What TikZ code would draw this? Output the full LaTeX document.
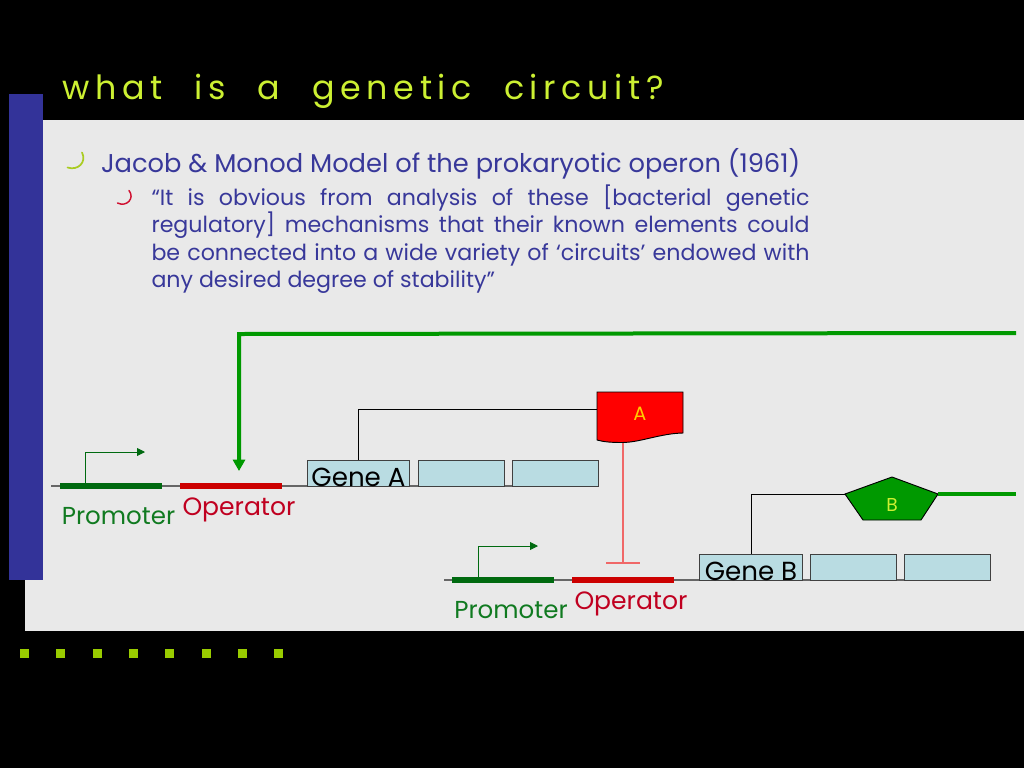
\documentclass[tikz,border=0pt]{standalone}
\usepackage{fontspec}
\setmainfont{Poppins}
\newfontfamily\titlefont[LetterSpace=17,WordSpace=2.2]{Poppins}
\usetikzlibrary{arrows.meta}
\definecolor{titlecol}{HTML}{CCF032}
\definecolor{panelcol}{HTML}{E9E9E9}
\definecolor{sidecol}{HTML}{333399}
\definecolor{textcol}{HTML}{38389A}
\definecolor{promcol}{HTML}{006A10}
\definecolor{promtxt}{HTML}{107A20}
\definecolor{opercol}{HTML}{CC0000}
\definecolor{opertxt}{HTML}{C00020}
\definecolor{genecol}{HTML}{B9DCE2}
\definecolor{activecol}{HTML}{009900}
\definecolor{inhibcol}{HTML}{F06868}
\definecolor{dotcol}{HTML}{99CC00}
\definecolor{bulletred}{HTML}{D01030}
\definecolor{bulletgreen}{HTML}{AACC22}
\newcommand{\genetext}[1]{\smash{\raisebox{-9.9pt}{#1}}}
\tikzset{
  x=0.75pt,y=-0.75pt,
  txt/.style={inner sep=0pt,outer sep=0pt},
  dnaline/.style={draw=black!60,line width=0.9pt},
  promobar/.style={fill=promcol,draw=none,minimum width=76.5pt,minimum height=4.5pt,inner sep=0pt},
  operbar/.style={fill=opercol,draw=none,minimum width=76.5pt,minimum height=4.5pt,inner sep=0pt},
  genebox/.style={fill=genecol,draw=black!75,line width=0.7pt,minimum height=19.5pt,inner sep=0pt,text=black,font=\fontsize{19.6}{22}\selectfont},
  smallbox/.style={genebox,minimum width=64.5pt},
  bigbox/.style={genebox,minimum width=77pt},
  tss/.style={draw=promcol,line width=0.65pt,-{Triangle[length=6pt,width=6pt]}},
  link/.style={draw=black,line width=0.7pt},
  active/.style={draw=activecol,line width=3pt},
  promlab/.style={txt,text=promtxt,font=\fontsize{18.4}{20}\selectfont},
  operlab/.style={txt,text=opertxt,font=\fontsize{18.8}{20}\selectfont},
  dot/.style={fill=dotcol,draw=none,minimum size=6.75pt,inner sep=0pt},
  bul/.style={line width=1pt,line cap=round},
}
\begin{document}
\begin{tikzpicture}
\useasboundingbox (0,0) rectangle (1024,768);
\fill[black] (0,0) rectangle (1024,768);
\fill[panelcol] (25,120) rectangle (1024,631);
\fill[sidecol] (8.5,94) rectangle (43,580);

\node[txt,anchor=base west,text=titlecol,font=\titlefont\fontsize{25}{28}\selectfont] (title) at (62,99) {what is a genetic circuit?};

\draw[bul,bulletgreen,line width=1.3pt] (82,152.5) .. controls (87,162) and (78,171) .. (67.5,167.5);
\draw[bul,bulletred,line width=1.1pt] (129,190.5) .. controls (135,198) and (127,207.5) .. (117.5,203);

\node[txt,anchor=base west,text=textcol,font=\fontsize{19.3}{22}\selectfont] (head) at (101,172) {Jacob \& Monod Model of the prokaryotic operon (1961)};
\node[txt,anchor=north west,text=textcol,font=\fontsize{16.6}{20.4}\selectfont,align=left] (quote) at (151.5,185) {%
\makebox[493.5pt][s]{“It is obvious from analysis of these [bacterial genetic}\\
\makebox[493.5pt][s]{regulatory] mechanisms that their known elements could}\\
\makebox[493.5pt][s]{be connected into a wide variety of ‘circuits’ endowed with}\\
any desired degree of stability”};

% first operon
\coordinate (lineAs) at (51,486);
\coordinate (lineAe) at (555,486);
\draw[dnaline] (lineAs) -- (lineAe);
\node[promobar] (promA) at (111,486) {};
\node[operbar] (operA) at (230.5,486) {};
\node[bigbox] (geneA) at (358.5,473) {\genetext{Gene A}};
\node[smallbox] (a2) at (461,473) {};
\node[smallbox] (a3) at (555,473) {};
\node[promlab,anchor=base] (promAl) at (118.5,524) {Promoter};
\node[operlab,anchor=base] (operAl) at (239,515.5) {Operator};
\coordinate (tssA) at (85,483.5);
\coordinate (tssAe) at (145,452);
\draw[tss] (tssA) |- (tssAe);

% second operon
\coordinate (lineBs) at (444,580);
\coordinate (lineBe) at (947,580);
\draw[dnaline] (lineBs) -- (lineBe);
\node[promobar] (promB) at (503,580) {};
\node[operbar] (operB) at (623,580) {};
\node[bigbox] (geneB) at (751,567) {\genetext{Gene B}};
\node[smallbox] (b2) at (853,567) {};
\node[smallbox] (b3) at (947,567) {};
\node[promlab,anchor=base] (promBl) at (511,618) {Promoter};
\node[operlab,anchor=base] (operBl) at (631,609.5) {Operator};
\coordinate (tssB) at (478,577.5);
\coordinate (tssBe) at (538,546);
\draw[tss] (tssB) |- (tssBe);

% protein A
\draw[fill=red,draw=black,line width=0.7pt] (597,392) -- (683,392) -- (683,433)
  .. controls (660,433.5) and (640,442.5) .. (622,442.5)
  .. controls (612,442.5) and (604,442) .. (597,440) -- cycle;
\node[txt,text=orange!40!yellow,font=\fontsize{14.5}{16}\selectfont] (A) at (640,413.5) {A};
\coordinate (aL) at (597,409);
\coordinate (aB) at (623,443);
\coordinate (barA) at (623,563);
\coordinate (barAl) at (606,563);
\coordinate (barAr) at (640,563);
\draw[link] (geneA.north) |- (aL);
\draw[draw=inhibcol,line width=0.9pt] (aB) -- (barA);
\draw[draw=inhibcol,line width=0.9pt] (barAl) -- (barAr);

% protein B
\coordinate (pT) at (892,477);
\coordinate (pR) at (938,494);
\coordinate (pBR) at (921,520);
\coordinate (pBL) at (863,520);
\coordinate (pL) at (845,494);
\draw[fill=activecol,draw=black,line width=0.7pt] (pT) -- (pR) -- (pBR) -- (pBL) -- (pL) -- cycle;
\node[txt,text=titlecol,font=\fontsize{14}{16}\selectfont] (B) at (892,505) {B};
\draw[link] (geneB.north) |- (pL);
\coordinate (outB) at (1016,494);
\draw[active] (pR) -- (outB);

% long activating arrow
\coordinate (feedS) at (1016,333);
\coordinate (feedC) at (239,334);
\coordinate (feedE) at (239,471);
\draw[active,-{Triangle[length=8.5pt,width=9pt]}] (feedS) -- (feedC) -- (feedE);

% footer dots
\foreach \i/\cx in {1/24,2/60.5,3/97,4/133,5/169.5,6/206,7/242,8/278}
  \node[dot] (d\i) at (\cx,653) {};
\end{tikzpicture}
\end{document}
